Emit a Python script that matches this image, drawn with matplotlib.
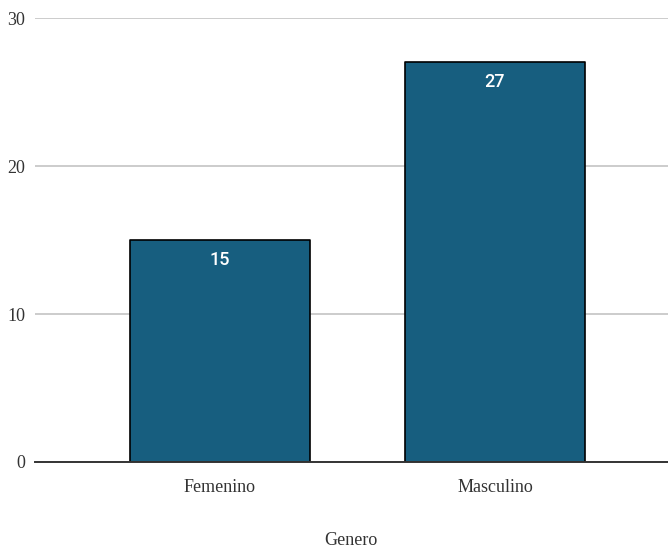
import matplotlib.pyplot as plt

# ── Datos ─────────────────────────────────────────────────────────────────────

categorias = ["Femenino", "Masculino"]
valores    = [15, 27]
yticks     = [0, 10, 20, 30]

BAR   = "#175e7f"
GRID  = "#cccccc"
SERIF = "Liberation Serif"

fig = plt.figure(figsize=(6.68, 5.48), dpi=100)
ax = fig.add_axes([0.052, 0.157, 0.948, 0.81])

x = range(len(categorias))
bars = ax.bar(x, valores, width=0.655, color=BAR, edgecolor="black",
              linewidth=1.2, joinstyle="round", zorder=3)

for b, v in zip(bars, valores):
    ax.annotate(str(v), (b.get_x() + b.get_width() / 2, v),
                xytext=(0, -20), textcoords="offset pixels",
                ha="center", va="center", color="white",
                fontsize=13, family="Roboto", weight="medium", zorder=4)

ax.set_xlim(-0.673, 1.629)
ax.set_ylim(0, 30)
ax.set_yticks(yticks)
ax.set_xticks(list(x))
ax.set_xticklabels(categorias, family=SERIF, fontsize=13)
ax.set_yticklabels([str(t) for t in yticks], family=SERIF, fontsize=13)
ax.tick_params(axis="both", length=0, colors="#333333")
ax.tick_params(axis="x", pad=12)
ax.tick_params(axis="y", pad=7)

ax.yaxis.grid(True, color=GRID, linewidth=1.4, zorder=0)
ax.set_axisbelow(True)
for s in ["top", "right", "left"]:
    ax.spines[s].set_visible(False)
ax.spines["bottom"].set_color("#333333")
ax.spines["bottom"].set_linewidth(1.4)
ax.spines["bottom"].set_zorder(5)

ax.set_xlabel("Genero", family=SERIF, fontsize=13, labelpad=26, color="#333333")

fig.savefig("out.png", dpi=100, facecolor="white")
